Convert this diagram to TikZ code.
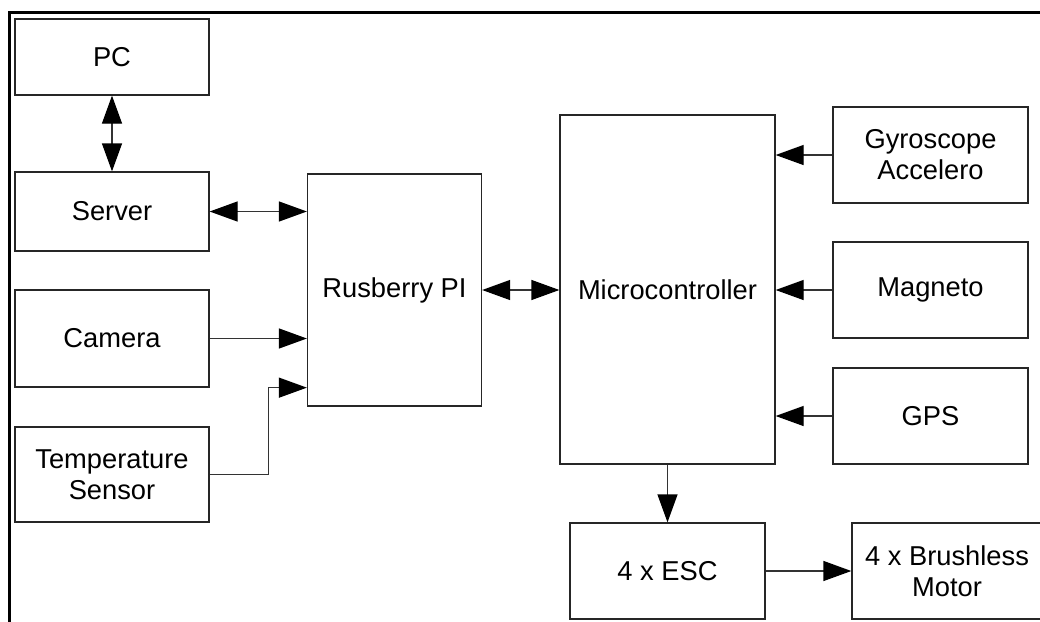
\documentclass[tikz,border=0pt]{standalone}
\usepackage{fontspec}
\setmainfont{Liberation Sans}
\usetikzlibrary{arrows.meta,calc}
\begin{document}
\begin{tikzpicture}[x=1pt,y=-1pt,
  blk/.style={draw=black!85,line width=1.3pt,inner sep=0pt,align=center,
    font=\fontsize{27.3}{31}\selectfont},
  conn/.style={draw=black!80,line width=1.3pt},
  tip/.tip={Triangle[length=28pt,width=20pt,color=black,fill=black]},
  one/.style={conn,-tip},
  two/.style={conn,tip-tip}]
\useasboundingbox (0,0) rectangle (1040,621);
\begin{scope}
\clip (0,0) rectangle (1040,621);
% frame
\draw[line width=2.6pt,line cap=rect] (9.5,621) -- (9.5,12.5) -- (1045,12.5);
% nodes
\node[blk,minimum width=194pt,minimum height=76pt] (pc) at (112,57) {PC};
\node[blk,minimum width=194pt,minimum height=79pt] (srv) at (112,211.5) {Server};
\node[blk,minimum width=194pt,minimum height=97pt] (cam) at (112,338.5) {Camera};
\node[blk,minimum width=194pt,minimum height=95pt] (tmp) at (112,474.5) {Temperature\\Sensor};
\node[blk,minimum width=174pt,minimum height=232pt] (rpi) at (394.5,290) {Rusberry PI};
\node[blk,minimum width=215pt,minimum height=349pt] (mc) at (667.5,289.5) {Microcontroller};
\node[blk,minimum width=195pt,minimum height=96pt] (gyr) at (930.5,155) {Gyroscope\\Accelero};
\node[blk,minimum width=195pt,minimum height=96pt] (mag) at (930.5,290) {Magneto};
\node[blk,minimum width=195pt,minimum height=96pt] (gps) at (930.5,416) {GPS};
\node[blk,minimum width=195pt,minimum height=96pt] (esc) at (667.5,571) {4 x ESC};
\node[blk,minimum width=190pt,minimum height=96pt] (mot) at (947,571) {4 x Brushless\\Motor};
\coordinate (tin) at ([yshift=19pt]rpi.south west);
% connectors
\draw[two] (pc.south) -- (srv.north);
\draw[two] (srv.east) -- (srv.east -| rpi.west);
\draw[one] (cam.east) -- (cam.east -| rpi.west);
\draw[one] (tmp.east) -- ++(59,0) |- (tin);
\draw[two] (rpi.east) -- (rpi.east -| mc.west);
\draw[one] (gyr.west) -- (gyr.west -| mc.east);
\draw[one] (mag.west) -- (mag.west -| mc.east);
\draw[one] (gps.west) -- (gps.west -| mc.east);
\draw[one] (mc.south) -- (esc.north);
\draw[one] (esc.east) -- (esc.east -| mot.west);
\end{scope}
\end{tikzpicture}
\end{document}
